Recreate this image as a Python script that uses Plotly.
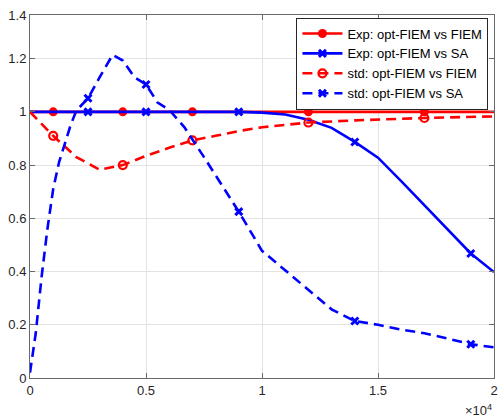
import numpy as np
import plotly.graph_objects as go

# ---- data (x in units of 1e4) ----
exp_fiem_x = [0, 0.1, 0.4, 0.7, 1.2, 1.7, 2.0]
exp_fiem_y = [1, 1, 1, 1, 1, 1, 1]
exp_fiem_mk = [0.1, 0.4, 0.7, 1.2, 1.7]

exp_sa_x = [0, 0.25, 0.5, 0.9, 1.0, 1.1, 1.2, 1.3, 1.4, 1.5, 1.6, 1.7, 1.8, 1.9, 2.0]
exp_sa_y = [1, 1, 1, 1, 0.997, 0.99, 0.97, 0.94, 0.887, 0.828, 0.74, 0.648, 0.557, 0.468, 0.398]
exp_sa_mk = [0.25, 0.5, 0.9, 1.4, 1.9]

std_fiem_x = [0, 0.1, 0.2, 0.3, 0.4, 0.5, 0.6, 0.7, 0.8, 0.9, 1.0, 1.1, 1.2, 1.4, 1.7, 2.0]
std_fiem_y = [1.0, 0.91, 0.83, 0.783, 0.80, 0.835, 0.865, 0.893, 0.91, 0.928, 0.942, 0.952, 0.96, 0.968, 0.977, 0.983]
std_fiem_mk = [0.1, 0.4, 0.7, 1.2, 1.7]

std_sa_x = [0, 0.025, 0.05, 0.075, 0.1, 0.125, 0.15, 0.175, 0.2, 0.25, 0.3, 0.356, 0.4, 0.45,
            0.5, 0.55, 0.6, 0.665, 0.75, 0.9, 1.0, 1.1, 1.2, 1.3, 1.4, 1.5, 1.6, 1.7, 1.8, 1.9, 2.0]
std_sa_y = [0.02, 0.17, 0.38, 0.56, 0.71, 0.81, 0.88, 0.95, 1.005, 1.051, 1.13, 1.214, 1.193, 1.13,
            1.103, 1.035, 1.008, 0.943, 0.83, 0.625, 0.478, 0.405, 0.332, 0.258, 0.214, 0.2, 0.182, 0.168, 0.148, 0.127, 0.115]
std_sa_mk = [0.25, 0.5, 0.9, 1.4, 1.9]

names = ["Exp: opt-FIEM vs FIEM", "Exp: opt-FIEM vs SA",
         "std: opt-FIEM vs FIEM", "std: opt-FIEM vs SA"]

y_top = 1.364
y_tickvals = [0, 0.2, 0.4, 0.6, 0.8, 1, 1.2, y_top]
y_ticktext = ["0", "0.2", "0.4", "0.6", "0.8", "1", "1.2", "1.4"]
x_tickvals = [0, 0.5, 1, 1.5, 2]
x_ticktext = ["0", "0.5", "1", "1.5", "2"]

RED = "#ff0000"
BLUE = "#0000ff"
DASH = "10px,6px"

series = [
    (exp_fiem_x, exp_fiem_y, exp_fiem_mk, RED, "solid",
     dict(symbol="circle", size=9, color=RED, line=dict(width=0))),
    (exp_sa_x, exp_sa_y, exp_sa_mk, BLUE, "solid",
     dict(symbol="x-thin", size=7, color=BLUE, line=dict(width=3, color=BLUE))),
    (std_fiem_x, std_fiem_y, std_fiem_mk, RED, DASH,
     dict(symbol="circle-open", size=8, color=RED, line=dict(width=2.2, color=RED))),
    (std_sa_x, std_sa_y, std_sa_mk, BLUE, DASH,
     dict(symbol="x-thin", size=7, color=BLUE, line=dict(width=3, color=BLUE))),
]

fig = go.Figure()
for (x, y, mk, col, dash, marker), name in zip(series, names):
    fig.add_trace(go.Scatter(x=x, y=y, mode="lines", showlegend=False,
                             line=dict(color=col, width=2.6, dash=dash), hoverinfo="skip"))
    fig.add_trace(go.Scatter(x=mk, y=list(np.interp(mk, x, y)), mode="markers",
                             showlegend=False, marker=marker))
    fig.add_trace(go.Scatter(x=[None], y=[None], mode="lines+markers", name=name,
                             line=dict(color=col, width=2.6, dash=dash), marker=marker))

axis_common = dict(
    showgrid=True, gridcolor="#e3e3e3", gridwidth=1,
    showline=True, linecolor="#6a6a6a", linewidth=1, mirror="ticks",
    ticks="inside", ticklen=5, tickcolor="#6a6a6a",
    tickfont=dict(family="Liberation Sans, Arial", size=13, color="#262626"),
    zeroline=False,
)

fig.update_layout(
    width=504, height=419,
    margin=dict(l=30, r=6, t=15, b=41),
    paper_bgcolor="white", plot_bgcolor="white",
    xaxis=dict(range=[0, 2], tickvals=x_tickvals, ticktext=x_ticktext, **axis_common),
    yaxis=dict(range=[0, y_top], tickvals=y_tickvals, ticktext=y_ticktext, **axis_common),
    legend=dict(x=0.988, xanchor="right", y=0.993, yanchor="top",
                bgcolor="white", bordercolor="#262626", borderwidth=1,
                font=dict(family="Liberation Sans, Arial", size=13, color="#000000"),
                tracegroupgap=0, itemwidth=40),
    annotations=[dict(text="×10<sup>4</sup>", xref="paper", yref="paper", x=1.0, y=-0.116,
                      xanchor="right", yanchor="bottom", showarrow=False,
                      font=dict(family="Liberation Sans, Arial", size=13, color="#262626"))],
)

fig.write_html("out.html")
